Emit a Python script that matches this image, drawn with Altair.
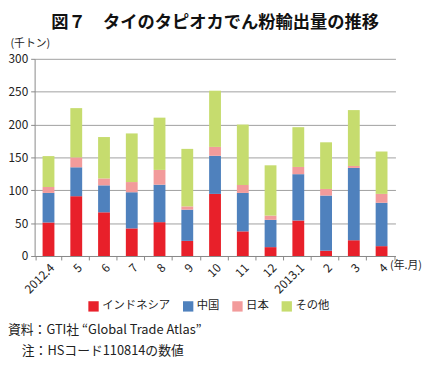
import altair as alt
import pandas as pd

months = ["2012.4", "5", "6", "7", "8", "9", "10", "11", "12", "2013.1", "2", "3", "4"]
series = ["インドネシア", "中国", "日本", "その他"]
colors = ["#e8202a", "#4f81bd", "#f29b9b", "#c6dc6e"]
indonesia = [51, 91, 66.5, 42, 51.5, 23, 94.5, 37.5, 13.5, 54, 8, 24, 15]
china = [45, 44, 41, 55, 57, 47.5, 58, 58.5, 41.5, 70.5, 84, 110, 66]
japan = [9, 15, 10.5, 15.5, 22.5, 5, 13.5, 12, 6.5, 11, 10, 3, 13.5]
other = [47, 75, 63, 74, 79.5, 87.5, 85.5, 92, 76.5, 60.5, 71, 85, 64.5]
notes_text = ["資料：GTI社 “Global Trade Atlas”", "注：HSコード110814の数値"]

rows = []
for si, (name, vals) in enumerate(zip(series, [indonesia, china, japan, other])):
    for m, v in zip(months, vals):
        rows.append({"month": m, "series": name, "value": v, "idx": si})
df = pd.DataFrame(rows)

FONT = "Noto Sans CJK JP"

bars = alt.Chart(df).mark_bar(size=12).encode(
    x=alt.X("month:N", sort=months,
            axis=alt.Axis(title="(年.月)", titleAngle=0, titleX=360, titleY=10,
                          titleAlign="left", titleBaseline="middle", titleFontWeight="normal",
                          titleFontSize=11, titleColor="#222",
                          labelAngle=-45, labelFontSize=12, labelColor="#222",
                          tickBand="extent", domainColor="#888", tickColor="#888",
                          tickSize=4, labelPadding=2)),
    y=alt.Y("value:Q", stack="zero",
            scale=alt.Scale(domain=[0, 300]),
            axis=alt.Axis(title="(千トン)", titleAngle=0, titleX=-25, titleY=-10,
                          titleAlign="left", titleBaseline="bottom", titleFontWeight="normal",
                          titleFontSize=11, titleColor="#222",
                          values=[0, 50, 100, 150, 200, 250, 300],
                          labelFontSize=12, labelColor="#222",
                          gridColor="#a0a0a0", domainColor="#888", tickColor="#888",
                          tickSize=4, labelPadding=3)),
    color=alt.Color("series:N", sort=series,
                    scale=alt.Scale(domain=series, range=colors),
                    legend=alt.Legend(title=None, orient="none", direction="horizontal",
                                      legendX=54, legendY=245, symbolType="square",
                                      symbolSize=110, symbolStrokeWidth=0,
                                      labelFontSize=11.5, labelColor="#222",
                                      columnPadding=12, labelOffset=3)),
    order=alt.Order("idx:Q", sort="ascending"),
)

notes = alt.Chart(pd.DataFrame({
    "t": notes_text,
    "x": [-27, -13],
    "y": [275, 296],
})).mark_text(align="left", baseline="middle", fontSize=13, color="#222", font=FONT).encode(
    x=alt.X("x:Q", scale=None), y=alt.Y("y:Q", scale=None), text="t:N"
)

chart = alt.layer(bars, notes).properties(
    width=366, height=200,
    autosize=alt.AutoSizeParams(type="none"),
    padding={"left": 27, "top": 49, "right": 32, "bottom": 108},
    title=alt.TitleParams("図７　タイのタピオカでん粉輸出量の推移", fontSize=17.5,
                          fontWeight="bold", font=FONT, anchor="middle", offset=7,
                          color="#111"),
).configure(font=FONT).configure_view(stroke=None)

chart.save("out.html", embed_options={"renderer": "svg", "actions": False})
